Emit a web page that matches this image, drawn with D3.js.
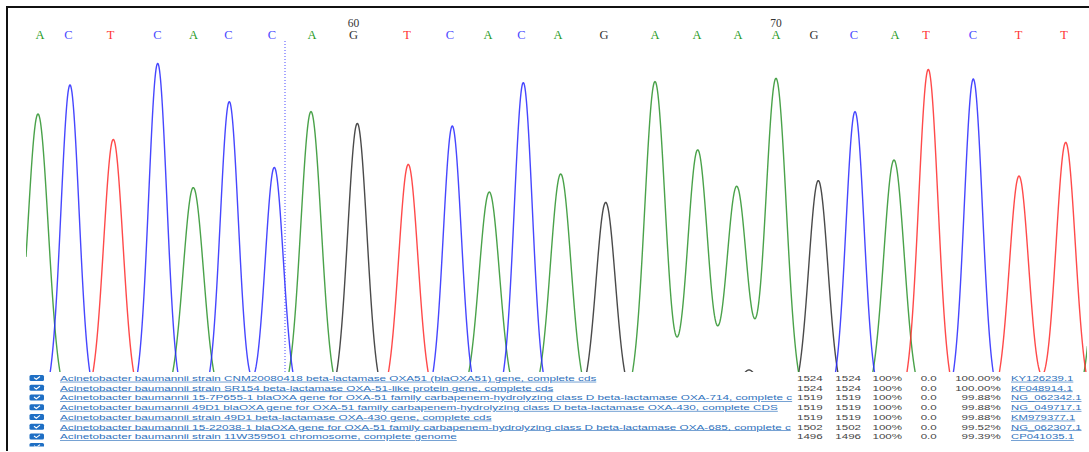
<!DOCTYPE html>
<html><head><meta charset="utf-8">
<script src="https://cdn.jsdelivr.net/npm/d3@7"></script>
<style>html,body{margin:0;padding:0;background:#fff;overflow:hidden}svg{display:block}</style>
</head><body>
<svg id="chart" width="1089" height="452"></svg>
<script>
// ---- base calls ----
const bases = ["A","C","T","C","A","C","C","A","G","T","C","A","C","A","G","A","A","A","A","G","C","A","T","C","T","T"];
const baseScans = [14,42.5,84.5,131.5,167.5,202.5,246,286,327.5,381,424,462,495.5,532,578,629,671,712,750,788,828,869,900,947,992.5,1038];
const firstBaseNumber = 52;
const tickEvery = 10;
// ---- trace peaks per channel (scan position, signal height) ----
const aPeakScans   = [12,167.3,285,463.3,534.7,629,671.7,710.7,750,868,1080];
const aPeakHeights = [1430,1062,1442,1040,1130,1592,1250,1067,1608,1200,1400];
const cPeakScans   = [44,131.7,203.3,248.3,426.3,497.3,829,947.3];
const cPeakHeights = [1575,1683,1492,1163,1370,1587,1442,1605];
const gPeakScans   = [331.3,579.7,723,792.3];
const gPeakHeights = [1383,988,150,1097];
const tPeakScans   = [87.3,382.3,902.3,993,1039.7];
const tPeakHeights = [1303,1178,1653,1120,1288];
const cursorScan = 259;
// ---- BLAST hits table ----
const hitTitles = [
 "Acinetobacter baumannii strain CNM20080418 beta-lactamase OXA51 (blaOXA51) gene, complete cds",
 "Acinetobacter baumannii strain SR154 beta-lactamase OXA-51-like protein gene, complete cds",
 "Acinetobacter baumannii 15-7P655-1 blaOXA gene for OXA-51 family carbapenem-hydrolyzing class D beta-lactamase OXA-714, complete cds",
 "Acinetobacter baumannii 49D1 blaOXA gene for OXA-51 family carbapenem-hydrolyzing class D beta-lactamase OXA-430, complete CDS",
 "Acinetobacter baumannii strain 49D1 beta-lactamase OXA-430 gene, complete cds",
 "Acinetobacter baumannii 15-22038-1 blaOXA gene for OXA-51 family carbapenem-hydrolyzing class D beta-lactamase OXA-685, complete cds",
 "Acinetobacter baumannii strain 11W359501 chromosome, complete genome"
];
const maxScores   = ["1524","1524","1519","1519","1519","1502","1496"];
const totalScores = ["1524","1524","1519","1519","1519","1502","1496"];
const queryCover  = ["100%","100%","100%","100%","100%","100%","100%"];
const eValues     = ["0.0","0.0","0.0","0.0","0.0","0.0","0.0"];
const identities  = ["100.00%","100.00%","99.88%","99.88%","99.88%","99.52%","99.39%"];
const accessions  = ["KY126239.1","KF048914.1","NG_062342.1","NG_049717.1","KM979377.1","NG_062307.1","CP041035.1"];

const svg = d3.select("#chart");
const x = d3.scaleLinear().domain([0, 1061]).range([26, 1087]);
const y = d3.scaleLinear().domain([0, 1800]).range([400, 40]);
const sigmaByBase = {A:10.2, C:9, G:9.6, T:9.6};

const baseColor = {A:"#1f9a1f", C:"#4a4aff", G:"#333333", T:"#ff3333"};
const traceColor = {A:"#2a922a", C:"#2626ff", G:"#2a2a2a", T:"#ff2a2a"};

const defs = svg.append("defs");
defs.append("clipPath").attr("id","traceClip").append("rect")
  .attr("x", 26).attr("y", 30).attr("width", 1061).attr("height", 342);
defs.append("clipPath").attr("id","tableClip").append("rect")
  .attr("x", 8).attr("y", 372).attr("width", 1081).attr("height", 74.5);

// header base letters
svg.append("g").selectAll("text").data(bases).join("text")
  .attr("x", (d,i) => x(baseScans[i])).attr("y", 39)
  .attr("text-anchor","middle")
  .style("font-family","'Liberation Serif', 'DejaVu Serif', serif")
  .style("font-size","12.5px")
  .attr("fill", d => baseColor[d])
  .text(d => d);

// position numbers
svg.append("g").selectAll("text")
  .data(bases.map((d,i) => i).filter(i => (firstBaseNumber + i) % tickEvery === 0))
  .join("text")
  .attr("x", i => x(baseScans[i])).attr("y", 27)
  .attr("text-anchor","middle")
  .style("font-family","'Liberation Serif', 'DejaVu Serif', serif")
  .style("font-size","11.5px")
  .attr("fill","#333")
  .text(i => String(firstBaseNumber + i));

// traces
const channels = [
  {b:"G", s:gPeakScans, h:gPeakHeights},
  {b:"A", s:aPeakScans, h:aPeakHeights},
  {b:"C", s:cPeakScans, h:cPeakHeights},
  {b:"T", s:tPeakScans, h:tPeakHeights}
];
const samples = d3.range(0, 1062, 0.5);
const line = d3.line().x(d => x(d[0])).y(d => y(d[1]));
const tg = svg.append("g").attr("clip-path","url(#traceClip)");
channels.forEach(ch => {
  const sg = sigmaByBase[ch.b];
  const pts = samples.map(sc => [sc, d3.sum(ch.s, (p,k) => ch.h[k] * Math.exp(-((sc-p)*(sc-p))/(2*sg*sg)))]);
  tg.append("path").datum(pts).attr("d", line)
    .attr("fill","none").attr("stroke", traceColor[ch.b]).attr("stroke-width", 1.4)
    .attr("stroke-opacity", 0.85);
});

// cursor line
svg.append("line").attr("x1", x(cursorScan)).attr("x2", x(cursorScan))
  .attr("y1", 41).attr("y2", 372)
  .attr("stroke","#4a4aff").attr("stroke-width",1).attr("stroke-dasharray","1,2");

// table overlay
svg.append("rect").attr("x", 8).attr("y", 372).attr("width", 1081).attr("height", 80).attr("fill","#fff");
const tb = svg.append("g").attr("clip-path","url(#tableClip)");
const rowBase = i => 381 + i * 9.73;
const rowIdx = d3.range(8);
const cb = tb.append("g").selectAll("g").data(rowIdx).join("g")
  .attr("transform", i => `translate(29.5,${rowBase(i) - 6})`);
cb.append("rect").attr("width",14.5).attr("height",6).attr("rx",1.5).attr("fill","#1f6fc4");
cb.append("path").attr("d","M4.5,2.6 L6.8,4.3 L10.5,1.5").attr("fill","none").attr("stroke","#fff").attr("stroke-width",1.1);

function sqText(g, xx, yy, str, opts) {
  const sx = opts.sx || 1;
  const t = g.append("g").attr("transform", `translate(${xx},${yy})`)
    .append("text").attr("transform",`scale(${sx},0.6)`)
    .style("font-family","'Liberation Sans', Arial, sans-serif")
    .style("font-size","11px")
    .attr("fill", opts.fill)
    .attr("text-anchor", opts.anchor || "start")
    .text(str);
  if (opts.underline) t.style("text-decoration","underline");
  if (opts.maxWidth) {
    // cut the shown string where the column ends, as the table view does
    let s = str;
    while (s.length > 1 && t.node().getComputedTextLength() * sx > opts.maxWidth) {
      s = s.slice(0, -1);
      t.text(s);
    }
  }
  return t;
}
hitTitles.forEach((s,i) => sqText(tb, 60, rowBase(i), s, {fill:"#2f72bd", underline:true, sx:1.066, maxWidth:733}));
const num = {fill:"#444", anchor:"end", sx:1.05};
maxScores.forEach((s,i) => sqText(tb, 822.7, rowBase(i), s, num));
totalScores.forEach((s,i) => sqText(tb, 861, rowBase(i), s, num));
queryCover.forEach((s,i) => sqText(tb, 902, rowBase(i), s, num));
eValues.forEach((s,i) => sqText(tb, 936.7, rowBase(i), s, num));
identities.forEach((s,i) => sqText(tb, 1000.7, rowBase(i), s, num));
accessions.forEach((s,i) => sqText(tb, 1011, rowBase(i), s, {fill:"#2f72bd", underline:true, sx:1.03}));

// frame
svg.append("path").attr("d","M7,451 V7 H1089").attr("fill","none").attr("stroke","#111").attr("stroke-width",2);
</script>
</body></html>
